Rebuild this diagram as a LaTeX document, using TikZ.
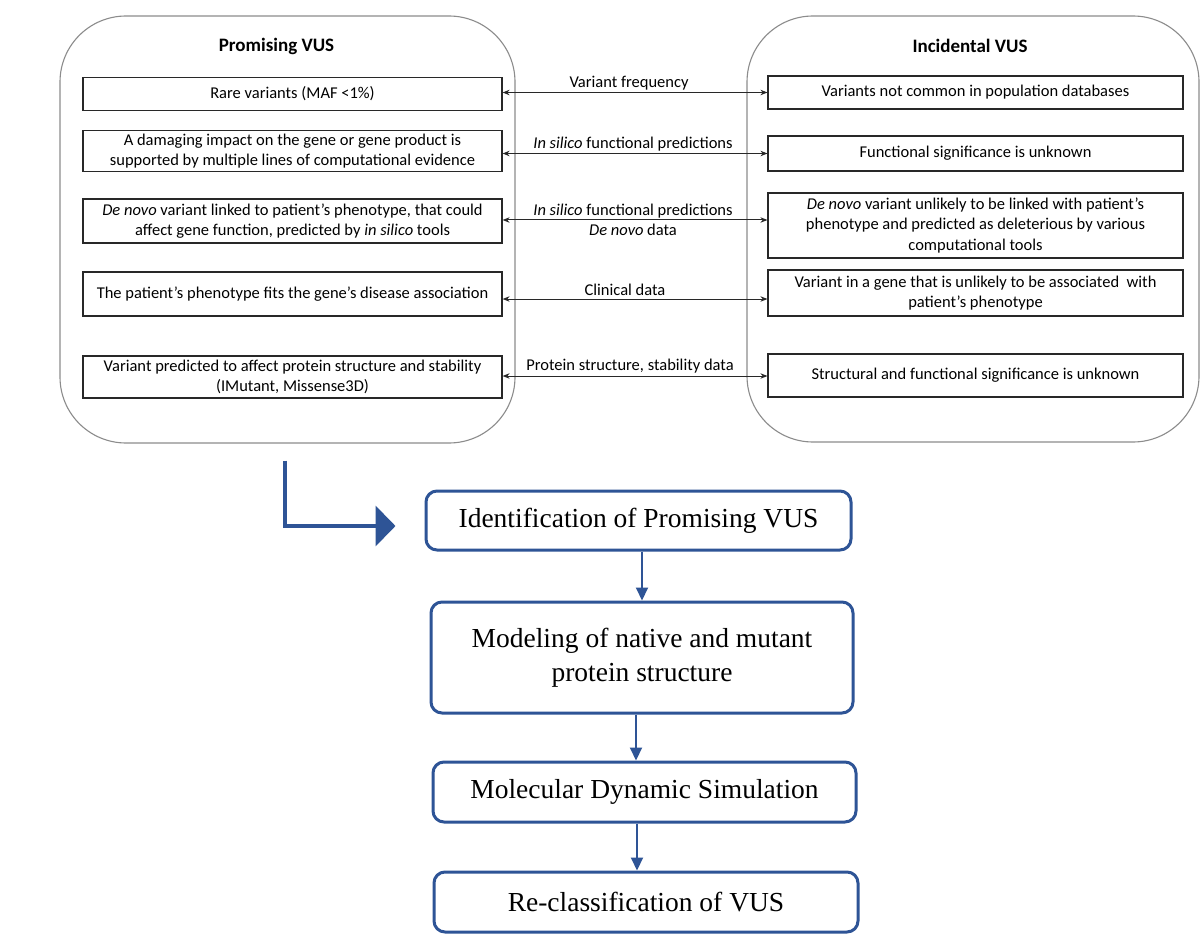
\documentclass[tikz,border=0pt]{standalone}
\usepackage{fontspec}
\setmainfont{Carlito}
\newfontfamily\timesf{Liberation Serif}
\usetikzlibrary{arrows.meta}
\definecolor{flowblue}{RGB}{46,84,150}
\definecolor{boxline}{RGB}{40,40,40}
\definecolor{contline}{RGB}{140,140,140}
\begin{document}
\begin{tikzpicture}[x=1pt,y=-1pt,
  cont/.style={draw=contline, line width=1.1pt, rounded corners=66pt, inner sep=0pt},
  lbox/.style={draw=boxline, line width=1.2pt, minimum width=419pt, align=center, inner sep=0pt, font=\fontsize{16.5}{20.5}\selectfont, text=black},
  rbox/.style={draw=boxline, line width=1.2pt, minimum width=415pt, align=center, inner sep=0pt, font=\fontsize{16.5}{20.5}\selectfont, text=black},
  ttl/.style={font=\fontsize{19}{22}\selectfont\bfseries},
  lab/.style={font=\fontsize{16.5}{19.5}\selectfont, align=center, inner sep=1pt},
  biarrow/.style={{Stealth[length=7pt,width=5.5pt]}-{Stealth[length=7pt,width=5.5pt]}, line width=1pt, draw=boxline},
  flow/.style={draw=flowblue, line width=3pt, rounded corners=11pt, align=center, font=\timesf\fontsize{27.5}{34}\selectfont, inner sep=0pt},
  farrow/.style={-{Triangle[length=13pt,width=12pt]}, draw=flowblue, line width=2pt}
]
\useasboundingbox (0,0) rectangle (1204,941);
\fill[white] (0,0) rectangle (1204,941);

% containers
\node[cont, minimum width=455pt, minimum height=427pt] (prom) at (287.5,229.5) {};
\node[cont, minimum width=452pt, minimum height=426pt] (inc) at (973,229) {};
\node[ttl] (tprom) at (276.5,46) {Promising VUS};
\node[ttl] (tinc) at (970,46) {Incidental VUS};

% left boxes
\node[lbox, minimum height=33pt] (L1) at (292.5,94) {Rare variants (MAF <1\%)};
\node[lbox, minimum height=41pt] (L2) at (292.5,151) {A damaging impact on the gene or gene product is\\supported by multiple lines of computational evidence};
\node[lbox, minimum height=44pt] (L3) at (292.5,221) {\textit{De novo} variant linked to patient’s phenotype, that could\\affect gene function, predicted by \textit{in silico} tools};
\node[lbox, minimum height=44pt] (L4) at (292.5,294) {The patient's phenotype fits the gene's disease association};
\node[lbox, minimum height=42pt] (L5) at (292.5,377) {Variant predicted to affect protein structure and stability\\(IMutant, Missense3D)};

% right boxes
\node[rbox, minimum height=33pt] (R1) at (975.5,92.5) {Variants not common in population databases};
\node[rbox, minimum height=35pt] (R2) at (975.5,153.5) {Functional significance is unknown};
\node[rbox, minimum height=65pt] (R3) at (975.5,225.5) {\textit{De novo} variant unlikely to be linked with patient’s\\phenotype and predicted as deleterious by various\\computational tools};
\node[rbox, minimum height=46pt] (R4) at (975.5,293) {Variant in a gene that is unlikely to be associated\ \ with\\patient's phenotype};
\node[rbox, minimum height=43pt] (R5) at (975.5,375.5) {Structural and functional significance is unknown};

% connecting arrows
\draw[biarrow] ([yshift=1.5pt]L1.east) -- ([yshift=1.5pt]L1.east -| R1.west)
  node[lab, midway, above=1pt, xshift=-6pt] {Variant frequency};
\draw[biarrow] ([yshift=-2.5pt]L2.east) -- ([yshift=-2.5pt]L2.east -| R2.west)
  node[lab, midway, above=1pt, xshift=-2pt] {\textit{In silico} functional predictions};
\draw[biarrow] ([yshift=1pt]L3.east) -- ([yshift=1pt]L3.east -| R3.west)
  node[lab, midway, yshift=0pt, xshift=-2pt] {\textit{In silico} functional predictions\\\textit{De novo} data};
\draw[biarrow] ([yshift=-5pt]L4.east) -- ([yshift=-5pt]L4.east -| R4.west)
  node[lab, midway, above=2pt, xshift=-10pt] {Clinical data};
\draw[biarrow] ([yshift=1pt]L5.east) -- ([yshift=1pt]L5.east -| R5.west)
  node[lab, midway, above=1pt, xshift=-5pt] {Protein structure, stability data};

% flow boxes
\node[flow, minimum width=425pt, minimum height=59pt] (A) at (638.5,520.5) {Identification of Promising VUS};
\node[flow, minimum width=422pt, minimum height=111pt] (B) at (642,657.5) {Modeling of native and mutant\\protein structure};
\node[flow, minimum width=423pt, minimum height=60pt] (C) at (644.5,792) {Molecular Dynamic Simulation};
\node[flow, minimum width=424pt, minimum height=60pt] (D) at (646,902) {Re-classification of VUS};

\draw[farrow] (B.north |- A.south) -- (B.north);
\draw[farrow] ([xshift=-6pt]B.south) -- ([xshift=-6pt]B.south |- C.north);
\draw[farrow] ([xshift=-7.5pt]C.south) -- ([xshift=-7.5pt]C.south |- D.north);

% elbow arrow
\draw[flowblue, line width=4pt, -{Triangle[length=20pt,width=40pt]}]
  ([xshift=-2.5pt,yshift=-17pt]prom.south) |- ([xshift=-29pt,yshift=-5.5pt]A.west);
\end{tikzpicture}
\end{document}
